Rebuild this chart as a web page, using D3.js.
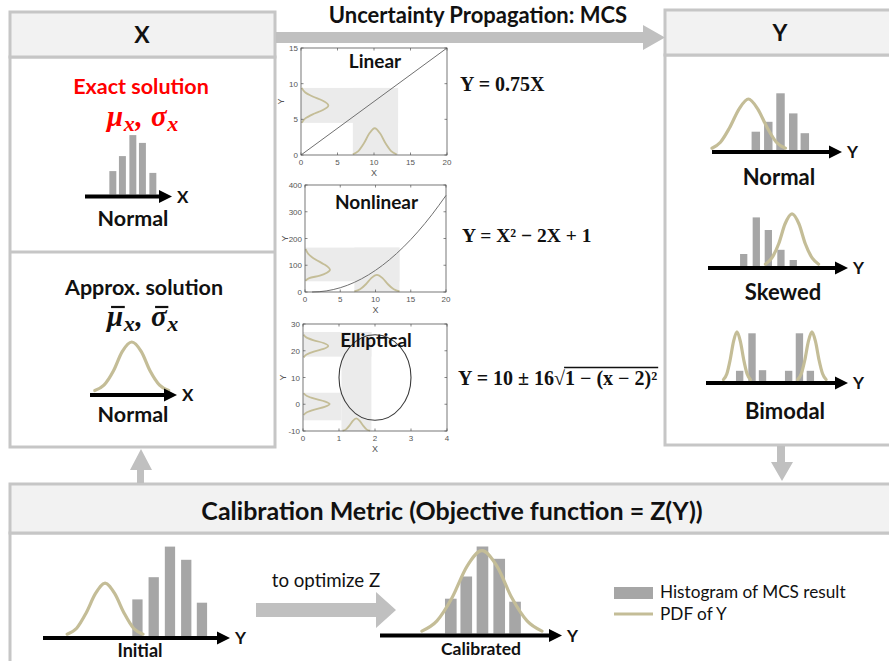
<!DOCTYPE html>
<html>
<head>
<meta charset="utf-8">
<script src="https://cdn.jsdelivr.net/npm/d3@7"></script>
<style>
  body { margin: 0; background: #fff; }
  svg { display: block; }
</style>
</head>
<body>
<svg id="c" width="889" height="661"></svg>
<script>
// ---------- data ----------
// MCS example plots
const linearLine = [[0, 0], [20, 15]];
const linearShade = [{x0: 0, x1: 13.3, y0: 4.5, y1: 9.4}, {x0: 7.1, x1: 13.3, y0: 0, y1: 9.4}];
const linearPdfX = [[7.1, 0.1], [7.85, 0.55], [8.6, 1.6], [9.35, 3.0], [10.1, 3.75], [10.85, 3.0], [11.6, 1.6], [12.35, 0.55], [13.1, 0.1]];
const linearPdfY = [[9.4, 0.1], [8.8, 0.55], [8.2, 1.6], [7.6, 3.0], [6.95, 3.75], [6.3, 3.0], [5.7, 1.6], [5.1, 0.55], [4.5, 0.1]];

const nonlinearCurve = [[1, 0], [2, 1], [3, 4], [4, 9], [6, 25], [8, 49], [10, 81], [12, 121], [14, 169], [16, 225], [18, 289], [20, 361]];
const nonlinearShade = [{x0: 0, x1: 13.4, y0: 40, y1: 166}, {x0: 7.0, x1: 13.4, y0: 0, y1: 166}];
const nonlinearPdfX = [[7.0, 2], [7.8, 10], [8.6, 28], [9.4, 52], [10.2, 64], [11.0, 52], [11.8, 28], [12.6, 10], [13.4, 2]];
const nonlinearPdfY = [[161, 0.1], [145, 0.4], [130, 1.0], [120, 1.6], [105, 2.6], [95, 3.2], [83, 3.55], [72, 3.1], [61, 2.1], [52, 0.6], [42, 0.1]];

const ellipse = {cx: 2, cy: 10, rx: 1, ry: 16};
const ellipticalShade = [{x0: 1.07, x1: 1.9, y0: -10, y1: 27}, {x0: 0, x1: 1.9, y0: 17.8, y1: 27}, {x0: 0, x1: 1.07, y0: -6, y1: 4.3}];
const ellipticalPdfX = [[1.1, -9.9], [1.195, -9.4], [1.29, -8.0], [1.385, -6.2], [1.48, -5.3], [1.575, -6.2], [1.67, -8.0], [1.765, -9.4], [1.86, -9.9]];
const ellipticalPdfYTop = [[26, 0.02], [24.9, 0.1], [23.9, 0.3], [22.9, 0.57], [21.8, 0.7], [20.7, 0.57], [19.7, 0.3], [18.6, 0.1], [17.5, 0.02]];
const ellipticalPdfYBottom = [[4.1, 0.02], [3.1, 0.11], [2.1, 0.32], [1.1, 0.6], [0.05, 0.74], [-1, 0.6], [-2, 0.32], [-3, 0.11], [-4, 0.02]];

const linearTicksX = [0, 5, 10, 15, 20];
const linearTicksY = [0, 5, 10, 15];
const nonlinearTicksY = [0, 100, 200, 300, 400];
const ellipticalTicksX = [0, 1, 2, 3, 4];
const ellipticalTicksY = [-10, 0, 10, 20, 30];

// distribution sketches: bin centres / counts and PDF outlines on a 0-10 axis
const exactCenters = [3.2, 4.3, 5.5, 6.6, 7.8];
const exactCounts = [3.9, 6.4, 9.9, 8.6, 3.6];
const approxPdf = [[0.55, 0.4], [1.6, 1.3], [2.7, 3.7], [3.7, 6.9], [4.8, 8.5], [5.9, 6.9], [6.9, 3.7], [8.0, 1.3], [9.05, 0.4]];

const normalCenters = [3.37, 4.33, 5.27, 6.25, 7.14];
const normalCounts = [3.05, 4.7, 9.45, 6.1, 2.8];
const normalPdf = [[0.0, 0.3], [0.65, 1.3], [1.35, 3.7], [2.1, 6.9], [2.8, 8.5], [3.5, 6.9], [4.25, 3.7], [4.95, 1.3], [5.65, 0.3]];

const skewedCenters = [2.55, 3.45, 4.31, 5.21, 6.09];
const skewedCounts = [2, 8.1, 6, 2.7, 1];
const skewedPdf = [[4.1, 0.3], [4.55, 1.3], [5.05, 3.7], [5.5, 7.0], [6.0, 8.7], [6.5, 7.0], [6.95, 3.7], [7.45, 1.3], [7.9, 0.3]];

const bimodalCenters = [2.37, 3.24, 3.98, 5.82, 6.58, 7.35];
const bimodalCounts = [1.7, 7.95, 1.8, 1.7, 7.95, 1.7];
const bimodalPdfA = [[1.23, 0.25], [1.47, 1.2], [1.7, 3.5], [1.94, 6.6], [2.18, 8.2], [2.42, 6.6], [2.66, 3.5], [2.89, 1.2], [3.13, 0.25]];
const bimodalPdfB = [[6.46, 0.25], [6.71, 1.2], [6.96, 3.5], [7.21, 6.6], [7.46, 8.2], [7.71, 6.6], [7.96, 3.5], [8.21, 1.2], [8.46, 0.25]];

const initialCenters = [5.05, 5.92, 6.79, 7.66, 8.5];
const initialCounts = [6.1, 9.8, 14.9, 12.7, 5.55];
const initialPdf = [[1.29, 0.3], [1.8, 1.3], [2.3, 3.8], [2.81, 7.1], [3.32, 8.8], [3.83, 7.1], [4.34, 3.8], [4.84, 1.3], [5.35, 0.3]];

const calibratedCenters = [3.89, 4.74, 5.63, 6.55, 7.42];
const calibratedCounts = [5.8, 9.5, 14.5, 12.45, 5.3];
const calibratedPdf = [[2.3, 0.4], [3.13, 2.1], [3.95, 5.9], [4.78, 11.2], [5.6, 13.8], [6.43, 11.2], [7.25, 5.9], [8.08, 2.1], [8.9, 0.4]];

const legendItems = ["Histogram of MCS result", "PDF of Y"];

// ---------- style ----------
const FRAME = '#c6c6c6';
const HEAD = '#f2f2f2';
const BAR = '#a6a6a6';
const PDF = '#c4bd97';
const ARROW = '#c0c0c0';
const SHADE = '#ebebeb';
const SANS = 'Lato, "Open Sans", "Noto Sans", sans-serif';
const SERIF = '"Liberation Serif", "DejaVu Serif", serif';
const AXFONT = '"Liberation Sans", Arial, sans-serif';

const svg = d3.select('#c');

// ---------- frames ----------
function frame(x, y, w, h, fill) {
  svg.append('rect').attr('x', x).attr('y', y).attr('width', w).attr('height', h)
    .attr('fill', fill || 'none').attr('stroke', FRAME).attr('stroke-width', 3);
}
frame(10, 57, 265, 390);
frame(10, 12, 265, 45, HEAD);
svg.append('line').attr('x1', 10).attr('x2', 275).attr('y1', 252).attr('y2', 252)
  .attr('stroke', FRAME).attr('stroke-width', 3);

frame(665, 55, 240, 390);
frame(665, 10, 240, 45, HEAD);

frame(10, 533, 900, 200);
frame(10, 484, 900, 49, HEAD);

// ---------- flow arrows ----------
function arrowShape(pts) {
  svg.append('path').attr('d', 'M' + pts.map(p => p.join(',')).join('L') + 'Z').attr('fill', ARROW);
}
// propagation arrow along the top
arrowShape([[276, 32], [643, 32], [643, 25], [665, 37.5], [643, 50], [643, 43], [276, 43]]);
// Y panel down to the metric
arrowShape([[777, 446], [785, 446], [785, 462], [793, 462], [782, 481], [771, 462], [777, 462]]);
// metric back up to X
arrowShape([[137, 483], [144, 483], [144, 470], [152, 470], [141, 449], [130, 470], [137, 470]]);
// optimisation arrow
arrowShape([[256, 603], [376, 603], [376, 592], [396, 610], [376, 628], [376, 617], [256, 617]]);

// ---------- headings ----------
function label(x, y, str, size, opts) {
  opts = opts || {};
  return svg.append('text').attr('x', x).attr('y', y).text(str)
    .attr('font-family', opts.family || SANS)
    .attr('font-weight', opts.weight || 'bold')
    .attr('font-size', size)
    .attr('fill', opts.fill || '#111')
    .attr('text-anchor', opts.anchor || 'middle');
}
label(142, 43, 'X', 23);
label(780, 41, 'Y', 23);
label(478, 23, 'Uncertainty Propagation: MCS', 22);
label(452, 520, 'Calibration Metric (Objective function = Z(Y))', 25);

label(141, 94, 'Exact solution', 21.5, {fill: '#ff0000'});
label(144, 295, 'Approx. solution', 21.5);

// parameter symbols (mu, sigma with subscript x)
function params(cx, y, color, bars) {
  const t = svg.append('text').attr('x', cx).attr('y', y).attr('text-anchor', 'middle')
    .attr('font-family', SERIF).attr('font-weight', 'bold').attr('font-style', 'italic')
    .attr('font-size', 29).attr('fill', color).attr('letter-spacing', 0.6);
  t.append('tspan').text('μ');
  t.append('tspan').text('x').attr('font-size', 22).attr('dy', 5);
  t.append('tspan').text(', σ').attr('dy', -5);
  t.append('tspan').text('x').attr('font-size', 22).attr('dy', 5);
  if (bars) {
    const node = t.node();
    // characters 0 and 4 are the mu and sigma glyphs
    [0, 4].forEach(i => {
      const e = node.getExtentOfChar(i);
      svg.append('line').attr('x1', e.x + 4).attr('x2', e.x + e.width + 1)
        .attr('y1', y - 19).attr('y2', y - 19)
        .attr('stroke', color).attr('stroke-width', 2.2);
    });
  }
}
params(143, 126, '#ff0000', false);
params(143, 326, '#111', true);

// ---------- distribution sketches ----------
function sketch(s) {
  const x = d3.scaleLinear().domain([0, 10]).range([s.x0, s.x1]);
  const base = s.axisY - 2;
  const y = d3.scaleLinear().domain([0, 10]).range([base, base - 60]);
  const g = svg.append('g');
  if (s.centers) {
    const rows = s.centers.map((c, i) => ({c: c, n: s.counts[i]}));
    g.selectAll('rect.bar').data(rows).join('rect').attr('class', 'bar')
      .attr('x', d => x(d.c - s.width / 2)).attr('width', x(s.width) - x(0))
      .attr('y', d => y(d.n)).attr('height', d => base - y(d.n))
      .attr('fill', BAR);
  }
  const line = d3.line().x(d => x(d[0])).y(d => y(d[1])).curve(d3.curveMonotoneX);
  (s.pdfs || []).forEach(p => {
    g.append('path').attr('d', line(p)).attr('fill', 'none')
      .attr('stroke', PDF).attr('stroke-width', 3.2).attr('stroke-linecap', 'round');
  });
  const tip = x(10);
  g.append('line').attr('x1', x(0)).attr('x2', tip - 8)
    .attr('y1', s.axisY).attr('y2', s.axisY).attr('stroke', '#000').attr('stroke-width', 4);
  g.append('path').attr('d', `M${tip},${s.axisY}L${tip - 13},${s.axisY - 6.5}L${tip - 13},${s.axisY + 6.5}Z`)
    .attr('fill', '#000');
  label(tip + 5, s.axisY + 6, s.axis, 17, {anchor: 'start'});
  if (s.name) label(s.nameX, s.nameY, s.name, s.nameSize || 21.5);
}

sketch({x0: 85, x1: 172, axisY: 196.5, axis: 'X', centers: exactCenters, counts: exactCounts, width: 0.8,
  name: 'Normal', nameX: 133, nameY: 226});
sketch({x0: 90, x1: 177, axisY: 395, axis: 'X', pdfs: [approxPdf],
  name: 'Normal', nameX: 133, nameY: 422});
sketch({x0: 712, x1: 842, axisY: 152, axis: 'Y', centers: normalCenters, counts: normalCounts, width: 0.65,
  pdfs: [normalPdf], name: 'Normal', nameX: 779, nameY: 185, nameSize: 22});
sketch({x0: 708, x1: 848, axisY: 268, axis: 'Y', centers: skewedCenters, counts: skewedCounts, width: 0.52,
  pdfs: [skewedPdf], name: 'Skewed', nameX: 783, nameY: 300, nameSize: 22});
sketch({x0: 706, x1: 848, axisY: 383, axis: 'Y', centers: bimodalCenters, counts: bimodalCounts, width: 0.52,
  pdfs: [bimodalPdfA, bimodalPdfB], name: 'Bimodal', nameX: 785, nameY: 419, nameSize: 22});
sketch({x0: 43, x1: 230, axisY: 638, axis: 'Y', centers: initialCenters, counts: initialCounts, width: 0.55,
  pdfs: [initialPdf], name: 'Initial', nameX: 140, nameY: 657, nameSize: 18});
sketch({x0: 380, x1: 562, axisY: 635.5, axis: 'Y', centers: calibratedCenters, counts: calibratedCounts, width: 0.64,
  pdfs: [calibratedPdf], name: 'Calibrated', nameX: 481, nameY: 655, nameSize: 17.5});

label(326, 587, 'to optimize Z', 18.7, {weight: 'normal'});

// legend
svg.append('rect').attr('x', 614).attr('y', 587).attr('width', 39).attr('height', 12).attr('fill', BAR);
svg.append('line').attr('x1', 614).attr('x2', 653).attr('y1', 614).attr('y2', 614)
  .attr('stroke', PDF).attr('stroke-width', 3);
label(660, 598, legendItems[0], 17.2, {weight: 'normal', anchor: 'start'});
label(660, 620, legendItems[1], 17.2, {weight: 'normal', anchor: 'start'});

// ---------- MCS example plots ----------
function plot(p) {
  const x = d3.scaleLinear().domain(p.xd).range([p.l, p.r]);
  const y = d3.scaleLinear().domain(p.yd).range([p.b, p.t]);
  const g = svg.append('g');
  g.selectAll('rect.sh').data(p.shade).join('rect').attr('class', 'sh')
    .attr('x', d => x(d.x0)).attr('width', d => x(d.x1) - x(d.x0))
    .attr('y', d => y(d.y1)).attr('height', d => y(d.y0) - y(d.y1))
    .attr('fill', SHADE);
  const lx = d3.line().x(d => x(d[0])).y(d => y(d[1])).curve(d3.curveMonotoneX);
  const ly = d3.line().x(d => x(d[1])).y(d => y(d[0])).curve(d3.curveMonotoneY);
  (p.pdfX || []).forEach(d => g.append('path').attr('d', lx(d)).attr('fill', 'none')
    .attr('stroke', PDF).attr('stroke-width', 1.8));
  (p.pdfY || []).forEach(d => g.append('path').attr('d', ly(d)).attr('fill', 'none')
    .attr('stroke', PDF).attr('stroke-width', 1.8));
  if (p.curve) {
    g.append('path').attr('d', d3.line().x(d => x(d[0])).y(d => y(d[1])).curve(d3.curveMonotoneX)(p.curve))
      .attr('fill', 'none').attr('stroke', '#707070').attr('stroke-width', 1);
  }
  if (p.ellipse) {
    const e = p.ellipse;
    g.append('ellipse').attr('cx', x(e.cx)).attr('cy', y(e.cy))
      .attr('rx', x(e.cx + e.rx) - x(e.cx)).attr('ry', y(e.cy - e.ry) - y(e.cy))
      .attr('fill', 'none').attr('stroke', '#3a3a3a').attr('stroke-width', 1.1);
  }
  // axes box with inward ticks
  g.append('rect').attr('x', p.l).attr('y', p.t).attr('width', p.r - p.l).attr('height', p.b - p.t)
    .attr('fill', 'none').attr('stroke', '#555').attr('stroke-width', 0.8);
  const tk = 2.5;
  p.xt.forEach(v => {
    g.append('line').attr('x1', x(v)).attr('x2', x(v)).attr('y1', p.b).attr('y2', p.b - tk).attr('stroke', '#555').attr('stroke-width', 0.7);
    g.append('line').attr('x1', x(v)).attr('x2', x(v)).attr('y1', p.t).attr('y2', p.t + tk).attr('stroke', '#555').attr('stroke-width', 0.7);
    label(x(v), p.b + 10, String(v), 8, {weight: 'normal', family: AXFONT, fill: '#555'});
  });
  p.yt.forEach(v => {
    g.append('line').attr('x1', p.l).attr('x2', p.l + tk).attr('y1', y(v)).attr('y2', y(v)).attr('stroke', '#555').attr('stroke-width', 0.7);
    g.append('line').attr('x1', p.r).attr('x2', p.r - tk).attr('y1', y(v)).attr('y2', y(v)).attr('stroke', '#555').attr('stroke-width', 0.7);
    label(p.l - 3, y(v) + 3, String(v), 8, {weight: 'normal', family: AXFONT, fill: '#555', anchor: 'end'});
  });
  label((p.l + p.r) / 2, p.b + 21, 'X', 9, {weight: 'normal', family: AXFONT, fill: '#555'});
  svg.append('text').attr('transform', `translate(${p.l - 17},${(p.t + p.b) / 2}) rotate(-90)`)
    .attr('text-anchor', 'middle').attr('font-family', AXFONT)
    .attr('font-size', 9).attr('fill', '#555').text('Y');
  label((p.l + p.r) / 2 + 1, p.titleY, p.title, p.titleSize);
}

plot({l: 301, r: 447, t: 48, b: 155, xd: [0, 20], yd: [0, 15], xt: linearTicksX, yt: linearTicksY,
  shade: linearShade, pdfX: [linearPdfX], pdfY: [linearPdfY], curve: linearLine,
  title: 'Linear', titleY: 68, titleSize: 19});
plot({l: 305, r: 446, t: 185, b: 292, xd: [0, 20], yd: [0, 400], xt: linearTicksX, yt: nonlinearTicksY,
  shade: nonlinearShade, pdfX: [nonlinearPdfX], pdfY: [nonlinearPdfY], curve: nonlinearCurve,
  title: 'Nonlinear', titleY: 209, titleSize: 19});
plot({l: 303, r: 447, t: 324, b: 431, xd: [0, 4], yd: [-10, 30], xt: ellipticalTicksX, yt: ellipticalTicksY,
  shade: ellipticalShade, pdfX: [ellipticalPdfX], pdfY: [ellipticalPdfYTop, ellipticalPdfYBottom], ellipse: ellipse,
  title: 'Elliptical', titleY: 347, titleSize: 19});

// ---------- model equations ----------
function eq(x, y, str, size) {
  return svg.append('text').attr('x', x).attr('y', y).text(str)
    .attr('font-family', SERIF).attr('font-weight', 'bold').attr('font-size', size).attr('fill', '#111');
}
eq(460, 91, 'Y = 0.75X', 20);
eq(462, 242, 'Y = X² − 2X + 1', 19.5);
const e3a = eq(458, 385, 'Y = 10 ± 16√', 20);
const w3 = e3a.node().getComputedTextLength();
const e3b = eq(458 + w3, 385, '1 − (x − 2)²', 20);
const w3b = e3b.node().getComputedTextLength();
svg.append('line').attr('x1', 458 + w3 - 1).attr('x2', 458 + w3 + w3b + 1)
  .attr('y1', 367.5).attr('y2', 367.5).attr('stroke', '#111').attr('stroke-width', 1.4);
</script>
</body>
</html>
